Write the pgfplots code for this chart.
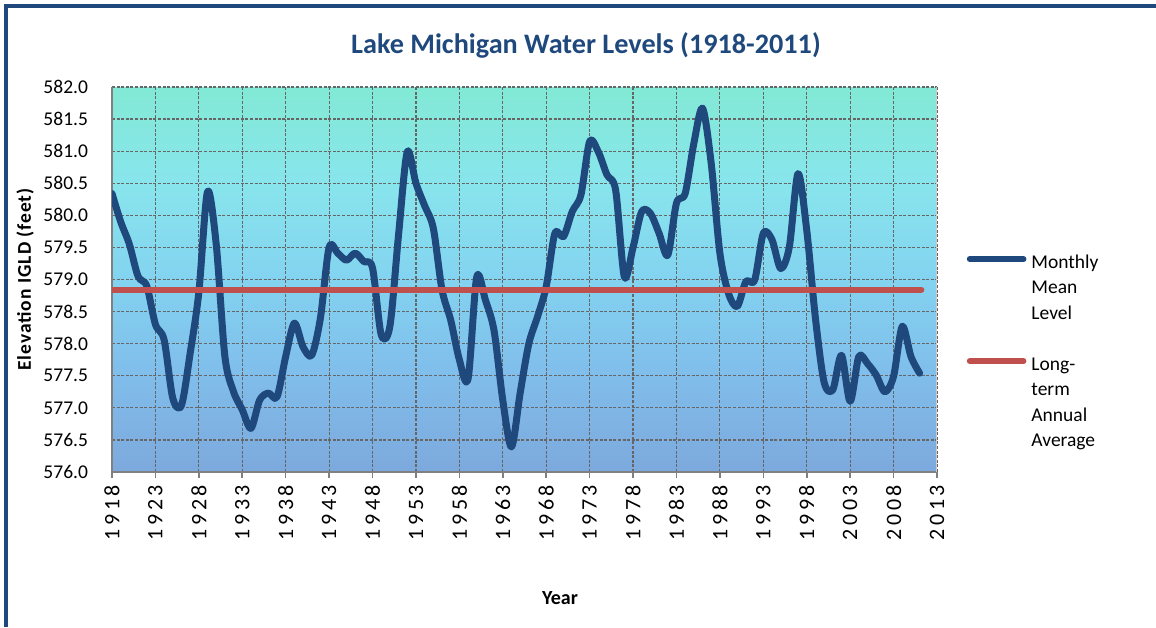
\documentclass[border=0pt]{standalone}
\usepackage{fontspec}
\setmainfont{Carlito}
\newfontfamily\xtickfont[LetterSpace=16]{Carlito}
\newfontfamily\ylabfont[LetterSpace=5]{Carlito}
\usepackage{pgfplots}
\pgfplotsset{compat=1.18}
\definecolor{lmblue}{HTML}{1F497D}
\definecolor{lmred}{HTML}{C0504D}
\definecolor{cA}{HTML}{7DA9DD}
\definecolor{cB}{HTML}{80BDEB}
\definecolor{cC}{HTML}{83D3F0}
\definecolor{cD}{HTML}{88E5EC}
\definecolor{cE}{HTML}{82E9D5}
\pgfdeclareverticalshading{lakebg}{100bp}{color(0bp)=(cA); color(25bp)=(cA); color(37.5bp)=(cB); color(50bp)=(cC); color(62.5bp)=(cD); color(75bp)=(cE); color(100bp)=(cE)}
\pgfplotstableread{
year level
1918 580.34
1919 579.90
1920 579.55
1921 579.05
1922 578.90
1923 578.30
1924 578.06
1925 577.15
1926 577.04
1927 577.85
1928 578.80
1929 580.37
1930 579.55
1931 577.80
1932 577.25
1933 576.97
1934 576.68
1935 577.12
1936 577.23
1937 577.17
1938 577.80
1939 578.32
1940 577.95
1941 577.82
1942 578.40
1943 579.50
1944 579.41
1945 579.30
1946 579.41
1947 579.28
1948 579.18
1949 578.14
1950 578.27
1951 579.70
1952 580.99
1953 580.50
1954 580.15
1955 579.80
1956 578.84
1957 578.37
1958 577.75
1959 577.45
1960 579.04
1961 578.68
1962 578.20
1963 577.12
1964 576.39
1965 577.23
1966 578.00
1967 578.42
1968 578.89
1969 579.72
1970 579.67
1971 580.06
1972 580.32
1973 581.15
1974 580.99
1975 580.63
1976 580.39
1977 579.04
1978 579.50
1979 580.06
1980 580.03
1981 579.72
1982 579.38
1983 580.19
1984 580.34
1985 581.12
1986 581.67
1987 580.81
1988 579.41
1989 578.78
1990 578.58
1991 578.97
1992 578.99
1993 579.72
1994 579.62
1995 579.17
1996 579.51
1997 580.65
1998 579.77
1999 578.40
2000 577.40
2001 577.28
2002 577.82
2003 577.10
2004 577.80
2005 577.69
2006 577.51
2007 577.25
2008 577.49
2009 578.27
2010 577.80
2011 577.54
}\levels
\begin{document}
\begin{tikzpicture}[x=1pt,y=1pt]
\path[use as bounding box] (0,0) rectangle (578,313.5);
\draw[lmblue, line width=2pt] (3,0) -- (3,310.5) -- (578,310.5);
\begin{axis}[
  at={(56pt,77.5pt)}, anchor=south west,
  scale only axis, width=412.5pt, height=192.5pt,
  xmin=1918, xmax=2013, ymin=576, ymax=582,
  xtick={1918,1923,...,2013},
  ytick={576,576.5,...,582.1},
  axis background/.style={shading=lakebg},
  axis lines*=left,
  axis line style={-, draw=gray, line width=0.9pt},
  xtick align=outside,
  major tick length=3pt,
  x tick style={draw=gray, line width=0.8pt},
  y tick style={draw=none},
  grid=major,
  major grid style={black!60, line width=0.6pt, dash pattern=on 1.5pt off 0.8pt},
  /pgf/number format/assume math mode=true,
  xticklabel style={rotate=90, anchor=east, font=\xtickfont\fontsize{11}{12}\selectfont, /pgf/number format/set thousands separator={}},
  yticklabel style={font=\fontsize{9.75}{11}\selectfont, /pgf/number format/fixed, /pgf/number format/fixed zerofill, /pgf/number format/precision=1, xshift=-8.5pt},
  xlabel={Year},
  xlabel style={at={(rel axis cs:0.543,0)}, anchor=center, yshift=-63pt, font=\bfseries\fontsize{10}{11}\selectfont},
  ylabel={Elevation IGLD (feet)},
  ylabel style={at={(rel axis cs:0,0.5)}, anchor=center, yshift=43.5pt, font=\ylabfont\bfseries\fontsize{9.75}{11}\selectfont},
  legend style={draw=none, fill=none, at={(rel axis cs:1.0357,0.566)}, anchor=north west, inner sep=0pt, row sep=3.75pt,
    font=\fontsize{9.75}{12.75}\selectfont, nodes={inner sep=0pt, text height=7pt, text depth=2pt}, column sep=2.5pt},
  legend cell align=left,
  legend image code/.code={\draw[#1, line cap=round, line width=2.8pt] (0pt,2.2pt) -- (27pt,2.2pt);},
]
\addplot[lmblue, line width=3.5pt, smooth, line join=round, line cap=round] table[x=year, y=level] {\levels};
\addlegendentry{Monthly}
\addlegendimage{empty legend}\addlegendentry{Mean}
\addlegendimage{empty legend}\addlegendentry{Level}
\addlegendimage{empty legend}\addlegendentry{\strut}
\addplot[lmred, line width=3pt, line cap=round] coordinates {(1918,578.84) (2011.2,578.84)};
\addlegendentry{Long-}
\addlegendimage{empty legend}\addlegendentry{term}
\addlegendimage{empty legend}\addlegendentry{Annual}
\addlegendimage{empty legend}\addlegendentry{Average}
\draw[gray!40, line width=0.6pt] (rel axis cs:1,0) -- (rel axis cs:1,1);
\end{axis}
\node[font=\bfseries\fontsize{14.1}{16}\selectfont, text=lmblue] at (293,291) {Lake Michigan Water Levels (1918-2011)};
\end{tikzpicture}
\end{document}
